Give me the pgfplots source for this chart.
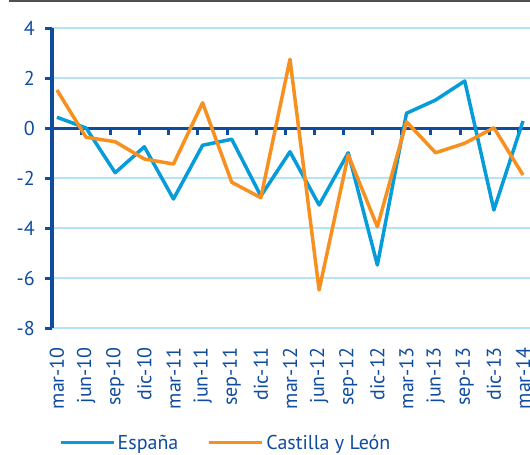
\documentclass[border=0pt]{standalone}
\usepackage{pgfplots}
\pgfplotsset{compat=1.18}
\usepackage{fontspec}
\setmainfont{PT Sans}
\definecolor{axisblue}{RGB}{16,76,158}
\definecolor{gridblue}{RGB}{182,228,247}
\definecolor{serblue}{RGB}{6,155,217}
\definecolor{serorange}{RGB}{247,144,30}
\definecolor{topgray}{RGB}{80,80,80}
\begin{document}
\begin{tikzpicture}
\begin{axis}[
  scale only axis,
  width=478bp, height=300bp,
  xmin=-0.17, xmax=16.24,
  ymin=-8, ymax=4,
  axis lines*=left,
  x axis line style={draw=none},
  y axis line style={axisblue, line width=3.5bp},
  ytick={-8,-6,-4,-2,0,2,4},
  xtick={0,...,16},
  xticklabels={mar-10,jun-10,sep-10,dic-10,mar-11,jun-11,sep-11,dic-11,mar-12,jun-12,sep-12,dic-12,mar-13,jun-13,sep-13,dic-13,mar-14},
  xtick style={draw=none},
  ytick style={axisblue, line width=3bp},
  tick align=outside,
  major tick length=7bp,
  ymajorgrids,
  grid style={gridblue, line width=1.5bp},
  tick label style={font=\fontsize{20bp}{24bp}\selectfont, text=axisblue},
  xticklabel style={rotate=90, anchor=east, inner sep=0pt},
  xticklabel shift=12bp,
  yticklabel style={anchor=east, inner sep=0pt},
  yticklabel shift=10bp,
  /pgf/number format/assume math mode=true,
  clip=false,
  legend columns=-1,
  legend image code/.code={\draw[#1, line width=3bp] (0bp,0bp) -- (53bp,0bp);},
  legend style={draw=none, fill=none, inner sep=0pt, anchor=west,
    at={(axis description cs:0.0146,-0.383)},
    font=\fontsize{20bp}{24bp}\selectfont, text=axisblue,
    nodes={inner sep=2.5bp},
    /tikz/every odd column/.append style={column sep=0bp},
    /tikz/every even column/.append style={column sep=27bp}},
]
\draw[axisblue, line width=3bp] (axis cs:-0.17,0) -- (axis cs:16.24,0);
\pgfplotsinvokeforeach{0.84,1.84,2.84,3.84,4.84,5.84,6.84,7.84,8.84,9.84,10.84,11.84,12.84,13.84,14.84,15.84}{
  \draw[axisblue, line width=3bp] (axis cs:#1,0) -- ++(0bp,-7bp);
}
\addplot[serblue, line width=3.5bp, line join=round] coordinates {
(0,0.43) (1,0.0) (2,-1.79) (3,-0.75) (4,-2.84) (5,-0.69) (6,-0.45) (7,-2.72)
(8,-0.95) (9,-3.08) (10,-0.99) (11,-5.48) (12,0.59) (13,1.12) (14,1.88) (15,-3.28) (16,0.28)};
\addlegendentry{España}
\addplot[serorange, line width=3.5bp, line join=round] coordinates {
(0,1.52) (1,-0.37) (2,-0.55) (3,-1.24) (4,-1.44) (5,1.01) (6,-2.17) (7,-2.79)
(8,2.75) (9,-6.48) (10,-1.08) (11,-3.95) (12,0.25) (13,-0.99) (14,-0.61) (15,0.01) (16,-1.88)};
\addlegendentry{Castilla y León}
\end{axis}
\draw[topgray, line width=2bp] ([xshift=-43bp,yshift=27bp]current axis.north west) -- ([yshift=27bp]current axis.north east);
\pgfresetboundingbox
\path ([shift={(-52bp,-127bp)}]current axis.south west) rectangle ++(530bp,455bp);
\end{tikzpicture}
\end{document}
